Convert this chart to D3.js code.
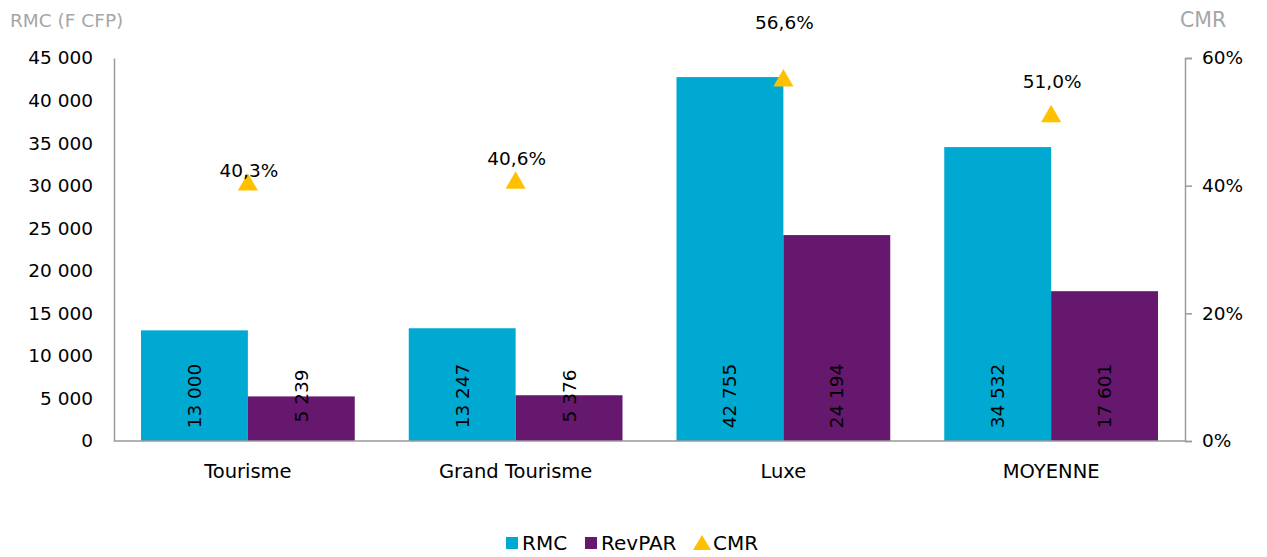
<!DOCTYPE html>
<html>
<head>
<meta charset="utf-8">
<script src="https://cdn.jsdelivr.net/npm/d3@7"></script>
<style>
  body { margin: 0; background: #fff; }
  text { font-family: "DejaVu Sans", sans-serif; }
</style>
</head>
<body>
<div id="chart"></div>
<script>
var categories = ["Tourisme", "Grand Tourisme", "Luxe", "MOYENNE"];
var rmc = [13000, 13247, 42755, 34532];
var revpar = [5239, 5376, 24194, 17601];
var cmr = [0.403, 0.406, 0.566, 0.510];
var leftTicks = [0, 5000, 10000, 15000, 20000, 25000, 30000, 35000, 40000, 45000];
var rightTicks = [0, 0.2, 0.4, 0.6];
// label lift above each triangle (px)
var labelDy = [7, 17, 51, 27];

var w = 1267, h = 557;
var plotLeft = 114, plotRight = 1185, plotTop = 58, plotBottom = 441;

var svg = d3.select("#chart").append("svg")
    .attr("width", w)
    .attr("height", h);

var x = d3.scaleBand().domain(categories).range([plotLeft, plotRight]).paddingInner(0).paddingOuter(0);
var yL = d3.scaleLinear().domain([0, 45000]).range([plotBottom, plotTop]);
var yR = d3.scaleLinear().domain([0, 0.6]).range([plotBottom, plotTop]);

var fmtSpace = function (v) { return d3.format(",")(v).replace(/,/g, " "); };
var fmtPct = function (v) { return d3.format(".1f")(v * 100).replace(".", ",") + "%"; };

var groupPad = 27;
var barW = (x.bandwidth() - 2 * groupPad) / 2;
var axisColor = "#9a9a9a";

// left axis
var axL = svg.append("g")
    .attr("transform", "translate(" + plotLeft + ",0)")
    .call(d3.axisLeft(yL).tickValues(leftTicks).tickSize(0).tickPadding(21).tickFormat(fmtSpace));
axL.select(".domain").attr("stroke", axisColor).attr("stroke-width", 1.5);
axL.selectAll("text").attr("font-size", 18.5).attr("fill", "#000");

// right axis
var axR = svg.append("g")
    .attr("transform", "translate(" + plotRight + ",0)")
    .call(d3.axisRight(yR).tickValues(rightTicks).tickSize(7).tickPadding(10).tickFormat(d3.format(".0%")));
axR.select(".domain").attr("stroke", axisColor).attr("stroke-width", 1.5);
axR.selectAll("line").attr("stroke", axisColor).attr("stroke-width", 1.5);
axR.selectAll("text").attr("font-size", 18.5).attr("fill", "#000");

// axis titles
svg.append("text").attr("x", 10).attr("y", 27).attr("font-size", 18.5).attr("fill", "#a6a6a6").text("RMC (F CFP)");
svg.append("text").attr("x", 1180).attr("y", 27).attr("font-size", 20.5).attr("fill", "#a6a6a6").text("CMR");

// bars
svg.selectAll("rect.rmc")
    .data(rmc)
    .enter()
    .append("rect")
    .attr("class", "rmc")
    .attr("fill", "#00a9d2")
    .attr("x", function (d, i) { return x(categories[i]) + groupPad; })
    .attr("y", function (d) { return yL(d); })
    .attr("width", barW)
    .attr("height", function (d) { return plotBottom - yL(d); });

svg.selectAll("rect.rev")
    .data(revpar)
    .enter()
    .append("rect")
    .attr("class", "rev")
    .attr("fill", "#66186f")
    .attr("x", function (d, i) { return x(categories[i]) + groupPad + barW; })
    .attr("y", function (d) { return yL(d); })
    .attr("width", barW)
    .attr("height", function (d) { return plotBottom - yL(d); });

// baseline
svg.append("line")
    .attr("x1", plotLeft).attr("x2", plotRight)
    .attr("y1", plotBottom).attr("y2", plotBottom)
    .attr("stroke", axisColor).attr("stroke-width", 1.5);

// bar value labels (vertical)
function barLabels(data, offset, cls) {
    svg.selectAll("text." + cls)
        .data(data)
        .enter()
        .append("text")
        .attr("class", cls)
        .attr("font-size", 18.5)
        .attr("fill", "#000")
        .attr("text-anchor", "middle")
        .attr("dominant-baseline", "central")
        .attr("transform", function (d, i) {
            var cx = x(categories[i]) + groupPad + offset + barW / 2;
            return "translate(" + cx + "," + (plotBottom - 45) + ") rotate(-90)";
        })
        .text(fmtSpace);
}
barLabels(rmc, 0, "lrmc");
barLabels(revpar, barW, "lrev");

// CMR triangles
var tri = d3.symbol().type(d3.symbolTriangle).size(175);
svg.selectAll("path.cmr")
    .data(cmr)
    .enter()
    .append("path")
    .attr("class", "cmr")
    .attr("d", tri)
    .attr("fill", "#ffc000")
    .attr("transform", function (d, i) {
        return "translate(" + (x(categories[i]) + x.bandwidth() / 2) + "," + (yR(d) + 1) + ")";
    });

svg.selectAll("text.lcmr")
    .data(cmr)
    .enter()
    .append("text")
    .attr("class", "lcmr")
    .attr("font-size", 18.5)
    .attr("fill", "#000")
    .attr("text-anchor", "middle")
    .attr("x", function (d, i) { return x(categories[i]) + x.bandwidth() / 2 + 1; })
    .attr("y", function (d, i) { return yR(d) - labelDy[i]; })
    .text(fmtPct);

// category labels
svg.selectAll("text.cat")
    .data(categories)
    .enter()
    .append("text")
    .attr("class", "cat")
    .attr("font-size", 19.5)
    .attr("fill", "#000")
    .attr("text-anchor", "middle")
    .attr("x", function (d) { return x(d) + x.bandwidth() / 2; })
    .attr("y", 478)
    .text(function (d) { return d; });

// legend
var legend = [
    { name: "RMC", color: "#00a9d2", shape: "square", x: 512 },
    { name: "RevPAR", color: "#66186f", shape: "square", x: 591 },
    { name: "CMR", color: "#ffc000", shape: "triangle", x: 702 }
];
var lg = svg.selectAll("g.leg")
    .data(legend)
    .enter()
    .append("g")
    .attr("class", "leg")
    .attr("transform", function (d) { return "translate(" + d.x + ",543)"; });
lg.append("path")
    .attr("d", function (d) {
        return d.shape == "square" ? "M-6,-6H6V6H-6Z" : "M0,-8L9,7H-9Z";
    })
    .attr("fill", function (d) { return d.color; });
lg.append("text")
    .attr("x", function (d) { return d.shape == "square" ? 10 : 11; })
    .attr("dominant-baseline", "central")
    .attr("font-size", 20)
    .attr("fill", "#000")
    .text(function (d) { return d.name; });
</script>
</body>
</html>
